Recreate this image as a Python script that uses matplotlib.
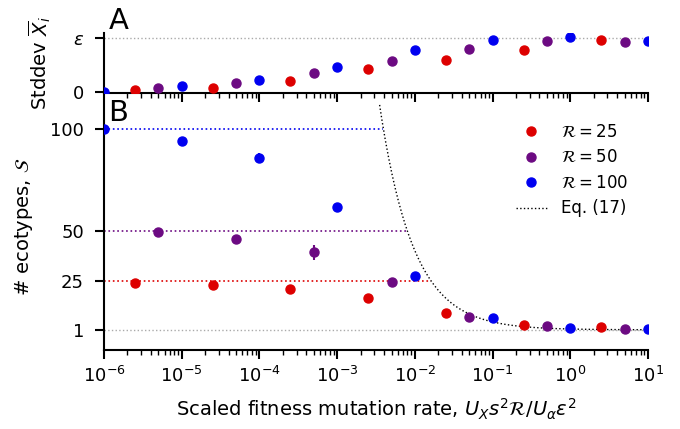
import numpy as np
import matplotlib
matplotlib.use('Agg')
import matplotlib.pyplot as plt
from matplotlib.lines import Line2D

# scaled fitness mutation rate for each series
x_r25 = [2.5e-6, 2.5e-5, 2.5e-4, 2.5e-3, 2.5e-2, 2.5e-1, 2.5]
x_r50 = [5e-6, 5e-5, 5e-4, 5e-3, 5e-2, 5e-1, 5]
x_r100 = [1e-6, 1e-5, 1e-4, 1e-3, 1e-2, 1e-1, 1, 10]

# panel A: stddev of mean trait (units of epsilon)
sd_r25 = [0.03, 0.075, 0.195, 0.42, 0.594, 0.775, 0.968]
sd_r50 = [0.075, 0.16, 0.345, 0.57, 0.80, 0.955, 0.936]
sd_r100 = [0.0, 0.11, 0.225, 0.457, 0.787, 0.97, 1.02, 0.955]

# panel B: number of ecotypes
S_r25 = [24.2, 23.2, 21.3, 16.5, 9.5, 3.5, 2.5]
S_r25_err = [0.5, 0.5, 2.0, 0.6, 0.5, 0.3, 0.3]
S_r50 = [49.4, 45.8, 39.2, 24.8, 7.1, 3.1, 1.6]
S_r50_err = [0.5, 0.6, 3.5, 0.5, 0.4, 0.3, 0.2]
S_r100 = [100, 94.1, 85.9, 61.4, 27.6, 6.8, 2.1, 1.6]
S_r100_err = [0.3, 0.6, 2.5, 0.8, 0.5, 0.3, 0.2, 0.2]

R_values = [25, 50, 100]
colors = ['#dd0000', '#6c0a82', '#0000f0']
eq17_coef = 0.39  # S = 1 + c / x

plt.rcParams['font.size'] = 13
plt.rcParams['axes.labelsize'] = 14
plt.rcParams['mathtext.fontset'] = 'dejavusans'

fig = plt.figure(figsize=(6.8, 4.29), dpi=100)
axA = fig.add_axes([0.153, 0.783, 0.8, 0.14])
axB = fig.add_axes([0.153, 0.184, 0.8, 0.576])

xs = [x_r25, x_r50, x_r100]

# Panel A
axA.axhline(1.0, color='#aaaaaa', ls=':', lw=1, zorder=1)
for x, y, c in zip(xs, [sd_r25, sd_r50, sd_r100], colors):
    axA.plot(x, y, 'o', color=c, ms=6.5, zorder=3)
axA.set_xscale('log')
axA.set_xlim(1e-6, 10)
axA.set_ylim(-0.025, 1.1)
axA.set_yticks([0, 1])
axA.set_yticklabels(['0', r'$\varepsilon$'])
axA.tick_params(axis='x', labelbottom=False)
axA.set_ylabel(r'Stddev $\overline{X}_i$', labelpad=14)
axA.text(0.008, 1.2, 'A', transform=axA.transAxes, fontsize=21, va='center')

# Panel B
axB.axhline(1, color='#aaaaaa', ls=':', lw=1, zorder=1)
for R, c in zip(R_values, colors):
    x_end = eq17_coef / (R - 1)
    axB.plot([1e-6, x_end], [R, R], ls=':', color=c, lw=1.2, zorder=1)

xc = np.logspace(-6, 1, 500)
axB.plot(xc, 1 + eq17_coef / xc, ':', color='black', lw=1, zorder=2)

for x, y, e, c in zip(xs, [S_r25, S_r50, S_r100],
                      [S_r25_err, S_r50_err, S_r100_err], colors):
    axB.errorbar(x, y, yerr=e, fmt='o', color=c, ms=6.5, elinewidth=1.5,
                 capsize=0, zorder=3)

axB.set_xscale('log')
axB.set_xlim(1e-6, 10)
axB.set_ylim(-9, 113)
axB.set_yticks([1, 25, 50, 100])
axB.set_xticks([1e-6, 1e-5, 1e-4, 1e-3, 1e-2, 1e-1, 1, 10])
axB.set_ylabel(r'# ecotypes, $\mathcal{S}$', labelpad=11)
axB.set_xlabel(r'Scaled fitness mutation rate, $U_X s^2 \mathcal{R} / U_\alpha \varepsilon^2$',
               labelpad=8)
axB.text(0.008, 0.96, 'B', transform=axB.transAxes, fontsize=21, va='center')

handles = [Line2D([], [], ls='none', marker='o', color=c, ms=6.5) for c in colors]
handles.append(Line2D([], [], ls=':', color='black', lw=1))
labels = [r'$\mathcal{R} = %d$' % R for R in R_values] + ['Eq. (17)']
axB.legend(handles, labels, loc='upper right', bbox_to_anchor=(0.992, 0.98),
           frameon=False, fontsize=12, handlelength=1.9, handletextpad=0.85,
           labelspacing=0.45)

for ax in (axA, axB):
    ax.spines['top'].set_visible(False)
    ax.spines['right'].set_visible(False)
    ax.spines['left'].set_linewidth(1.5)
    ax.spines['bottom'].set_linewidth(1.5)
    ax.tick_params(which='major', length=6.5, width=1.5, pad=5)
    ax.tick_params(which='minor', length=3.5, width=1)
    ax.tick_params(axis='y', which='major', pad=8)

fig.savefig('out.png', dpi=100)
